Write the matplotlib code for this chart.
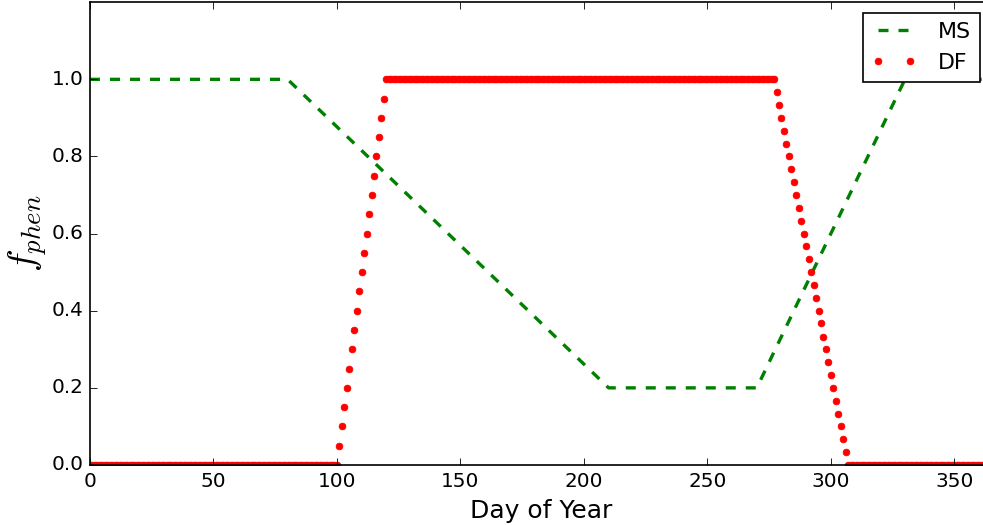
import numpy as np
import matplotlib
matplotlib.use("Agg")
import matplotlib.pyplot as plt

plt.style.use("classic")
plt.rcParams["figure.facecolor"] = "white"
plt.rcParams["savefig.facecolor"] = "white"
plt.rcParams["font.family"] = ["DejaVu Sans"]
plt.rcParams["mathtext.fontset"] = "cm"

# ---- data ----
ms_days = [0, 80, 210, 270, 330, 365]
ms_values = [1.0, 1.0, 0.2, 0.2, 1.0, 1.0]

days = np.arange(0, 366)
df_rise = [0.05, 0.10, 0.15, 0.20, 0.25, 0.30, 0.35, 0.40, 0.45, 0.50,
           0.55, 0.60, 0.65, 0.70, 0.75, 0.80, 0.85, 0.90, 0.95]
df_fall = [0.967, 0.933, 0.900, 0.867, 0.833, 0.800, 0.767, 0.733, 0.700,
           0.667, 0.633, 0.600, 0.567, 0.533, 0.500, 0.467, 0.433, 0.400,
           0.367, 0.333, 0.300, 0.267, 0.233, 0.200, 0.167, 0.133, 0.100,
           0.067, 0.033]
df_values = [0.0] * 101 + df_rise + [1.0] * 158 + df_fall + [0.0] * 59

xticks = [0, 50, 100, 150, 200, 250, 300, 350]
yticks = [0.0, 0.2, 0.4, 0.6, 0.8, 1.0]

fig = plt.figure(figsize=(8.2, 4.375), dpi=120)
ax = fig.add_axes([90 / 984, (525 - 465) / 525, 901.4 / 984, 462.8 / 525])

ax.plot(ms_days, ms_values, "g--", lw=2, label="MS")
ax.plot(days, df_values, "r.", ms=8, label="DF")

ax.set_xlim(0, 365)
ax.set_ylim(0, 1.2)
ax.set_xticks(xticks)
ax.set_yticks(yticks)
ax.tick_params(labelsize=12)
ax.set_xlabel("Day of Year", fontsize=15)
ax.set_ylabel(r"$f_{phen}$", fontsize=23)
ax.yaxis.set_label_coords(-0.046, 0.5)

ax.legend(loc="upper right", fontsize=13.3, numpoints=2, handlelength=2.0,
          handletextpad=1.0)

fig.savefig("out.png", dpi=120)
